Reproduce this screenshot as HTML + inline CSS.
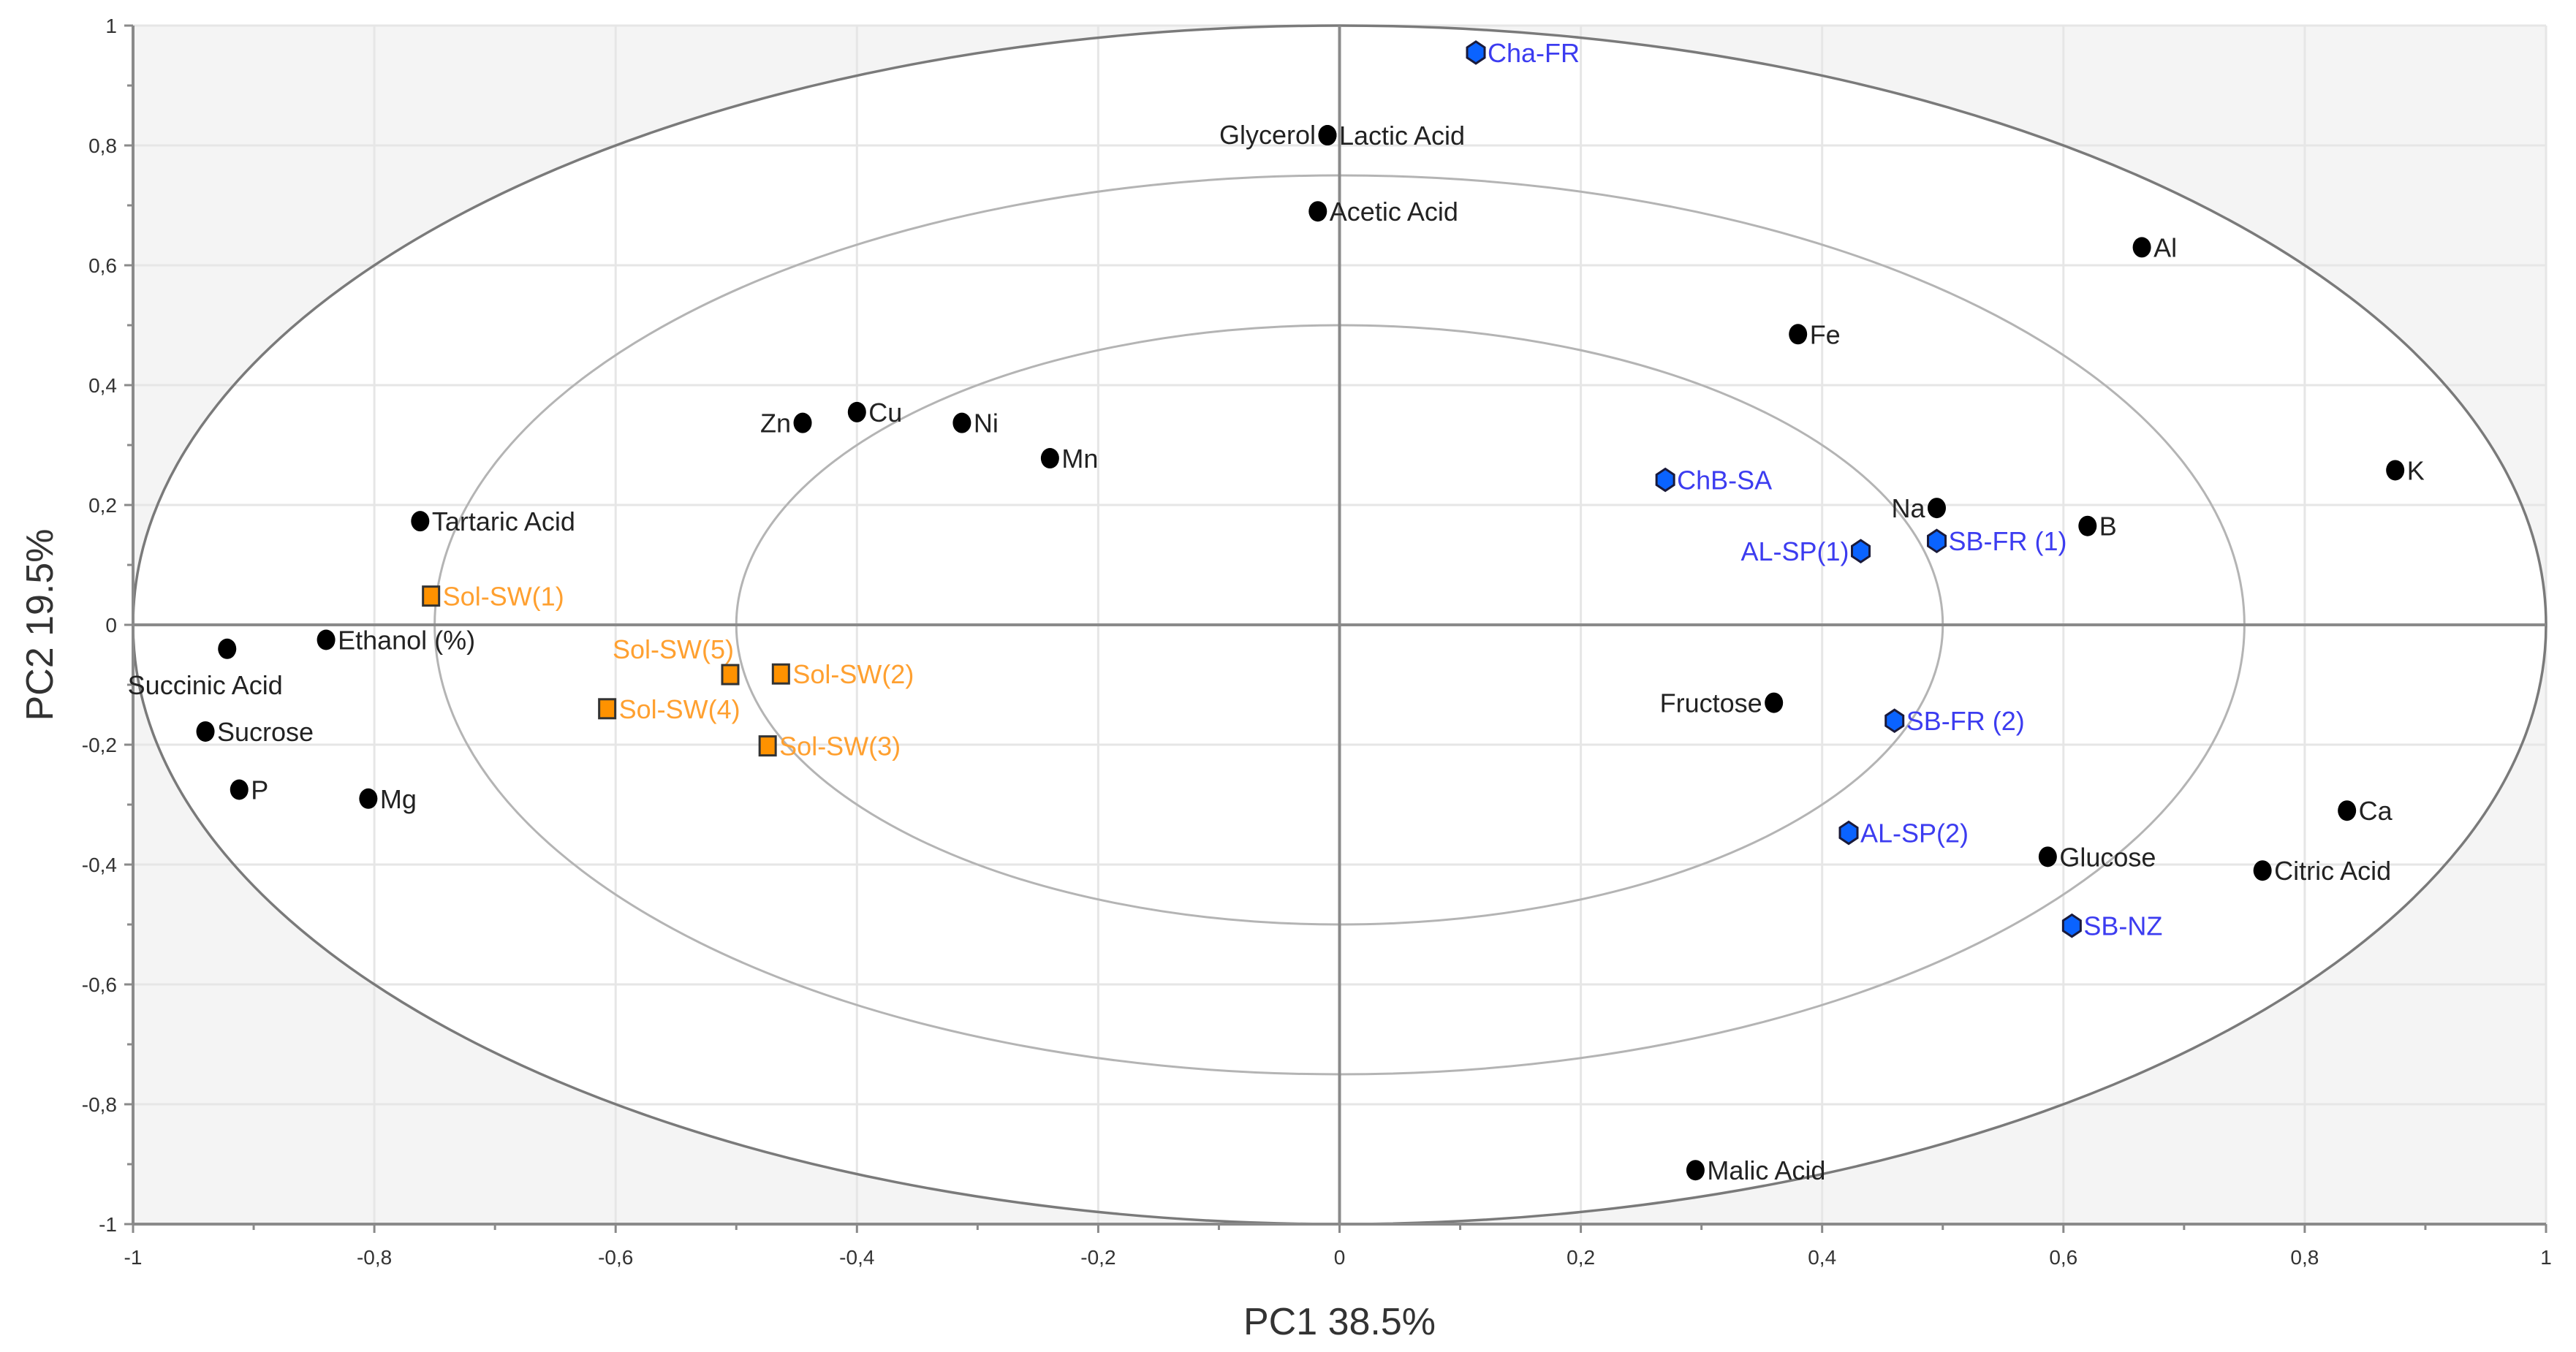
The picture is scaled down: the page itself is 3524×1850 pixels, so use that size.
<!DOCTYPE html>
<html><head><meta charset="utf-8"><style>
html,body{margin:0;padding:0;background:#fff;}
svg{display:block;font-family:"Liberation Sans",sans-serif;}
</style></head><body>
<svg id="chart" width="3524" height="1850" viewBox="0 0 3524 1850" xmlns="http://www.w3.org/2000/svg"></svg>
<script>
const names = ["Cha-FR","Glycerol","Lactic Acid","Acetic Acid","Al","Fe","K","B","Na","ChB-SA","SB-FR (1)","AL-SP(1)","Fructose","SB-FR (2)","AL-SP(2)","Glucose","Ca","Citric Acid","SB-NZ","Malic Acid","Zn","Cu","Ni","Mn","Tartaric Acid","Sol-SW(1)","Ethanol (%)","Succinic Acid","Sucrose","P","Mg","Sol-SW(5)","Sol-SW(2)","Sol-SW(4)","Sol-SW(3)"];
const pc1 = [0.113,-0.01,-0.01,-0.018,0.665,0.38,0.875,0.62,0.495,0.27,0.495,0.432,0.36,0.46,0.422,0.587,0.835,0.765,0.607,0.295,-0.445,-0.4,-0.313,-0.24,-0.762,-0.753,-0.84,-0.922,-0.94,-0.912,-0.805,-0.505,-0.463,-0.607,-0.474];
const pc2 = [0.955,0.817,0.817,0.69,0.63,0.485,0.258,0.165,0.195,0.242,0.14,0.123,-0.13,-0.16,-0.347,-0.387,-0.31,-0.41,-0.502,-0.91,0.337,0.355,0.337,0.278,0.173,0.048,-0.025,-0.04,-0.178,-0.275,-0.29,-0.083,-0.082,-0.14,-0.202];
const kinds = ["w","v","v","v","v","v","v","v","v","w","w","w","v","w","w","v","v","v","w","v","v","v","v","v","v","s","v","v","v","v","v","s","s","s","s"];
const labelPos = ["r","none","r","r","r","r","r","r","l","r","r","l","l","r","r","r","r","r","r","r","l","r","r","r","r","r","r","b","r","r","r","ul","r","r","r"];
const ticks = [-1,-0.8,-0.6,-0.4,-0.2,0,0.2,0.4,0.6,0.8,1];
const tickLabels = ["-1","-0,8","-0,6","-0,4","-0,2","0","0,2","0,4","0,6","0,8","1"];
const radii = [1,0.75,0.5];

const L=182,R=3483,T=35,B=1675;
const sx=v=>L+(v+1)/2*(R-L);
const sy=v=>B-(v+1)/2*(B-T);
const svg=document.getElementById('chart');
const NS='http://www.w3.org/2000/svg';
function mk(tag,attrs,parent){const e=document.createElementNS(NS,tag);for(const k in attrs)e.setAttribute(k,attrs[k]);(parent||svg).appendChild(e);return e;}

let bg=mk('rect',{x:L,y:T,width:R-L,height:B-T,fill:'#f4f4f4'});


let fillE=mk('ellipse',{cx:sx(0),cy:sy(0),rx:sx(1)-sx(0),ry:sy(0)-sy(1),fill:'#fff'});


ticks.forEach(t=>{
  if(t===0)return;
  let g1=mk('line',{x1:sx(t),x2:sx(t),y1:T,y2:B,stroke:'#e6e6e6','stroke-width':3});
  
  
  let g2=mk('line',{x1:L,x2:R,y1:sy(t),y2:sy(t),stroke:'#e6e6e6','stroke-width':3});
  
  
});
radii.forEach((r,i)=>{
  let e=mk('ellipse',{cx:sx(0),cy:sy(0),rx:sx(r)-sx(0),ry:sy(0)-sy(r),fill:'none',stroke:i===0?'#7a7a7a':'#b4b4b4','stroke-width':i===0?3.5:3});
  
  
});
let zx=mk('line',{x1:sx(0),x2:sx(0),y1:T,y2:B,stroke:'#8a8a8a','stroke-width':4});


let zy=mk('line',{x1:L,x2:R,y1:sy(0),y2:sy(0),stroke:'#8a8a8a','stroke-width':4});


let ax=mk('line',{x1:L,x2:R,y1:B,y2:B,stroke:'#8a8a8a','stroke-width':4});


let ay=mk('line',{x1:L,x2:L,y1:T,y2:B,stroke:'#8a8a8a','stroke-width':4});


for(let i=0;i<=20;i++){
  const v=-1+i*0.1, major=i%2===0, len=major?12:8;
  mk('line',{x1:sx(v),x2:sx(v),y1:B,y2:B+len,stroke:'#8a8a8a','stroke-width':3});
  mk('line',{x1:L-len,x2:L,y1:sy(v),y2:sy(v),stroke:'#8a8a8a','stroke-width':3});
}
ticks.forEach((t,i)=>{
  let a=mk('text',{x:sx(t),y:B+55,'text-anchor':'middle','font-size':28,fill:'#333'});
  a.textContent=tickLabels[i];
  
  
  let b=mk('text',{x:L-22,y:sy(t)+10,'text-anchor':'end','font-size':28,fill:'#333'});
  b.textContent=tickLabels[i];
  
  
});
let xt=mk('text',{x:sx(0),y:1826,'text-anchor':'middle','font-size':52,fill:'#333'});
xt.textContent='PC1 38.5%';


let yt=mk('text',{x:0,y:0,'text-anchor':'middle','font-size':52,fill:'#333',transform:'translate(72,'+sy(0)+') rotate(-90)'});
yt.textContent='PC2 19.5%';



names.forEach((n,i)=>{
  const x=sx(pc1[i]),y=sy(pc2[i]),k=kinds[i];
  let m;
  if(k==='v'){m=mk('ellipse',{cx:x,cy:y,rx:12.5,ry:14,fill:'#000'});}
  else if(k==='w'){
    const pts=[[0,-15],[12,-7],[12,7],[0,15],[-12,7],[-12,-7]].map(p=>(x+p[0])+','+(y+p[1])).join(' ');
    m=mk('polygon',{points:pts,fill:'#0a63ff',stroke:'#1a1a3a','stroke-width':3});
  } else {
    m=mk('rect',{x:x-11,y:y-13,width:22,height:26,fill:'#ff9200',stroke:'#333','stroke-width':3});
  }
  
  
  const lp=labelPos[i];
  if(lp==='none'){
    if(n==='Glycerol'){
      let t=mk('text',{x:x-16,y:y+12,'text-anchor':'end','font-size':36,fill:'#222'});
      t.textContent=n;
      
      
    }
    return;
  }
  const col=k==='w'?'#3c3cf0':(k==='s'?'#ffa030':'#222');
  let ta='start',tx=x+16,ty=y+13;
  if(lp==='l'){ta='end';tx=x-16;}
  if(lp==='b'){ta='middle';tx=x-30;ty=y+62;}
  if(lp==='ul'){ta='end';tx=x+5;ty=y-22;}
  let t=mk('text',{x:tx,y:ty,'text-anchor':ta,'font-size':36,fill:col});
  t.textContent=n;
  
  
});
</script>
</body></html>
